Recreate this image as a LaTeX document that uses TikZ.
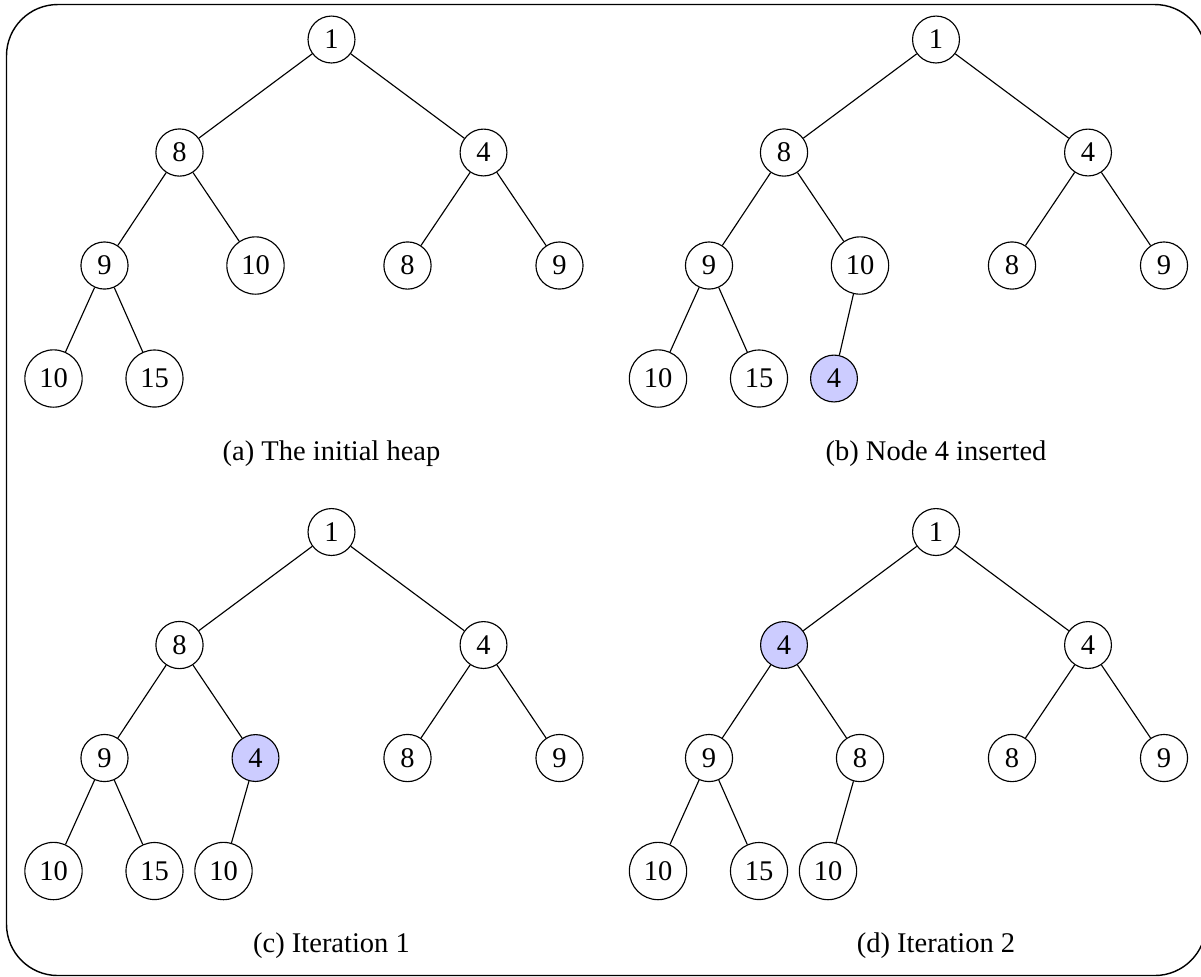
\documentclass[tikz,border=0pt]{standalone}
\usepackage{fontspec}
\setmainfont{Liberation Serif}
\begin{document}
\begin{tikzpicture}[x=0.3509pt,y=-0.3509pt,
  hnode/.style={circle,draw,inner xsep=2.7pt,inner ysep=3.1pt,font=\fontsize{10}{12}\selectfont},
  hot/.style={hnode,fill=blue!20},
  subcap/.style={anchor=base,font=\fontsize{10}{12}\selectfont}]
\useasboundingbox (0,0) rectangle (1201,976);
% outer frame
\draw[line width=0.5pt,rounded corners=18pt] (6.5,4.5) rectangle (1206,975.5);

% (a) the initial heap
\node[hnode] (a1)  at (331.5,39.5)  {1};
\node[hnode] (a2)  at (179.5,152.5) {8};
\node[hnode] (a3)  at (483.5,152.5) {4};
\node[hnode] (a4)  at (104.5,265.5) {9};
\node[hnode] (a5)  at (255.5,265.5) {10};
\node[hnode] (a6)  at (407.5,265.5) {8};
\node[hnode] (a7)  at (559.5,265.5) {9};
\node[hnode] (a8)  at (53.5,378.5)  {10};
\node[hnode] (a9)  at (154.5,378.5) {15};
\draw (a1) -- (a2) (a1) -- (a3) (a2) -- (a4) (a2) -- (a5)
      (a3) -- (a6) (a3) -- (a7) (a4) -- (a8) (a4) -- (a9);
\node[subcap] (capa) at (331.5,460) {(a) The initial heap};

% (b) node 4 inserted
\begin{scope}[shift={(604.5,0)}]
\node[hnode] (b1)  at (331.5,39.5)  {1};
\node[hnode] (b2)  at (179.5,152.5) {8};
\node[hnode] (b3)  at (483.5,152.5) {4};
\node[hnode] (b4)  at (104.5,265.5) {9};
\node[hnode] (b5)  at (255.5,265.5) {10};
\node[hnode] (b6)  at (407.5,265.5) {8};
\node[hnode] (b7)  at (559.5,265.5) {9};
\node[hnode] (b8)  at (53.5,378.5)  {10};
\node[hnode] (b9)  at (154.5,378.5) {15};
\node[hot]   (b10) at (229.5,378.5) {4};
\draw (b1) -- (b2) (b1) -- (b3) (b2) -- (b4) (b2) -- (b5)
      (b3) -- (b6) (b3) -- (b7) (b4) -- (b8) (b4) -- (b9) (b5) -- (b10);
\node[subcap] (capb) at (331.5,460) {(b) Node 4 inserted};
\end{scope}

% (c) iteration 1
\begin{scope}[shift={(0,492.5)}]
\node[hnode] (c1)  at (331.5,39.5)  {1};
\node[hnode] (c2)  at (179.5,152.5) {8};
\node[hnode] (c3)  at (483.5,152.5) {4};
\node[hnode] (c4)  at (104.5,265.5) {9};
\node[hot]   (c5)  at (255.5,265.5) {4};
\node[hnode] (c6)  at (407.5,265.5) {8};
\node[hnode] (c7)  at (559.5,265.5) {9};
\node[hnode] (c8)  at (53.5,378.5)  {10};
\node[hnode] (c9)  at (154.5,378.5) {15};
\node[hnode] (c10) at (223.5,378.5) {10};
\draw (c1) -- (c2) (c1) -- (c3) (c2) -- (c4) (c2) -- (c5)
      (c3) -- (c6) (c3) -- (c7) (c4) -- (c8) (c4) -- (c9) (c5) -- (c10);
\node[subcap] (capc) at (331.5,460) {(c) Iteration 1};
\end{scope}

% (d) iteration 2
\begin{scope}[shift={(604.5,492.5)}]
\node[hnode] (d1)  at (331.5,39.5)  {1};
\node[hot]   (d2)  at (179.5,152.5) {4};
\node[hnode] (d3)  at (483.5,152.5) {4};
\node[hnode] (d4)  at (104.5,265.5) {9};
\node[hnode] (d5)  at (255.5,265.5) {8};
\node[hnode] (d6)  at (407.5,265.5) {8};
\node[hnode] (d7)  at (559.5,265.5) {9};
\node[hnode] (d8)  at (53.5,378.5)  {10};
\node[hnode] (d9)  at (154.5,378.5) {15};
\node[hnode] (d10) at (223.5,378.5) {10};
\draw (d1) -- (d2) (d1) -- (d3) (d2) -- (d4) (d2) -- (d5)
      (d3) -- (d6) (d3) -- (d7) (d4) -- (d8) (d4) -- (d9) (d5) -- (d10);
\node[subcap] (capd) at (331.5,460) {(d) Iteration 2};
\end{scope}
\end{tikzpicture}
\end{document}
